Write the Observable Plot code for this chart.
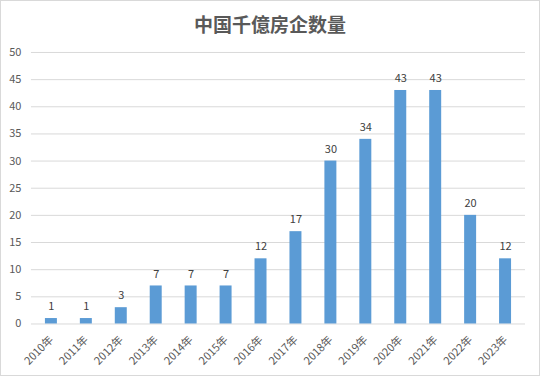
<!DOCTYPE html>
<html><head><meta charset="utf-8">
<script src="https://cdn.jsdelivr.net/npm/d3@7"></script>
<script src="https://cdn.jsdelivr.net/npm/@observablehq/plot@0.6"></script>
<style>
html,body{margin:0;padding:0;background:#fff;}
#wrap{position:relative;width:540px;height:376px;box-sizing:border-box;border:1px solid #d9d9d9;overflow:hidden;}
#title{position:absolute;left:0;top:0;width:538px;height:40px;line-height:46px;text-align:center;font-family:"Noto Sans CJK SC",sans-serif;font-weight:bold;font-size:19px;color:#595959;}
#chart{position:absolute;left:-1px;top:39px;}
</style></head><body>
<div id="wrap"><div id="title">中国千億房企数量</div><div id="chart"></div></div>
<script>
const years = ["2010年","2011年","2012年","2013年","2014年","2015年","2016年","2017年","2018年","2019年","2020年","2021年","2022年","2023年"];
const counts = [1,1,3,7,7,7,12,17,30,34,43,43,20,12];
const yTicks = [0,5,10,15,20,25,30,35,40,45,50];
const data = years.map((y,i)=>({year:y,count:counts[i]}));
const chart = Plot.plot({
  width:540, height:337,
  marginTop:12, marginBottom:53, marginLeft:31, marginRight:14,
  style:{fontFamily:"'Noto Sans CJK SC',sans-serif",fontSize:"11px",color:"#595959",background:"transparent"},
  x:{domain:years, paddingInner:0.66, paddingOuter:0.33, align:0.5, label:null, tickSize:0, tickPadding:14, tickRotate:-45},
  y:{domain:[0,50], ticks:yTicks, label:null, tickSize:0, tickPadding:10},
  marks:[
    Plot.gridY(yTicks,{stroke:"#d9d9d9",strokeOpacity:1}),
    Plot.barY(data,{x:"year",y:"count",fill:"#5b9bd5"}),
    Plot.text(data,{x:"year",y:"count",text:d=>String(d.count),dy:-12,fill:"#404040",fontSize:11})
  ]
});
document.getElementById("chart").appendChild(chart);
</script></body></html>
